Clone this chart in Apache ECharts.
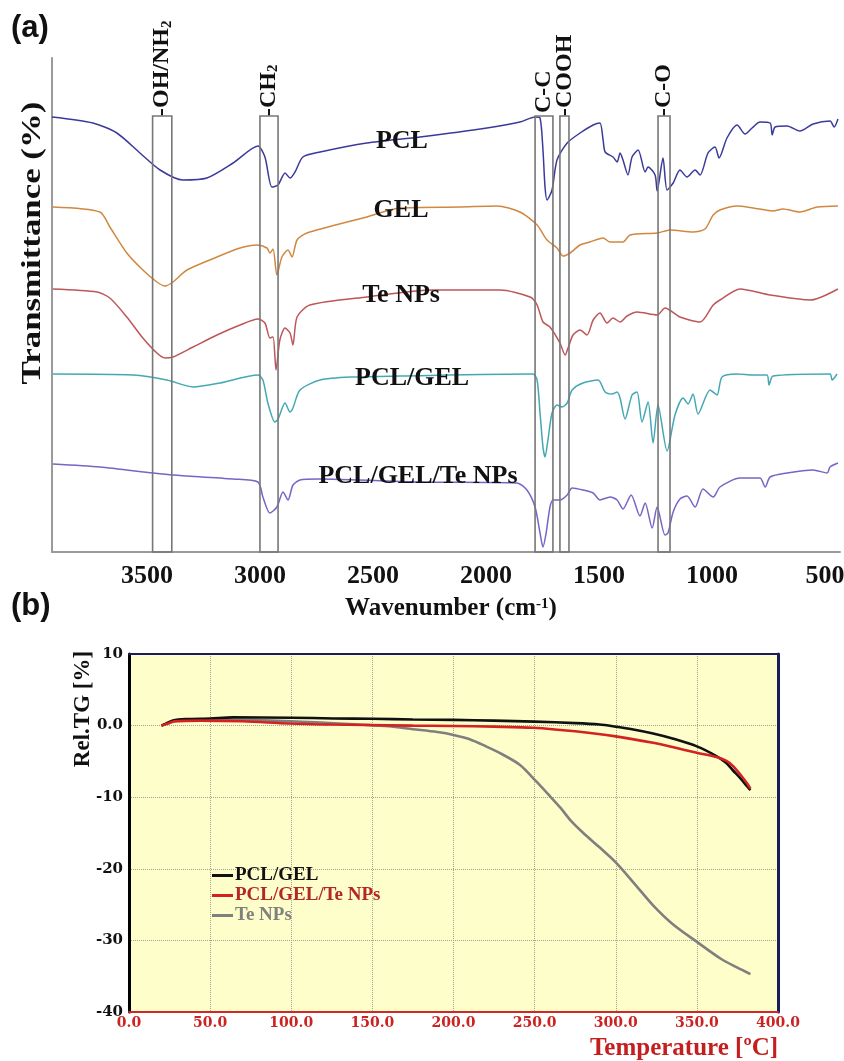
<!DOCTYPE html>
<html><head><meta charset="utf-8">
<script src="https://cdn.jsdelivr.net/npm/echarts@6/dist/echarts.min.js"></script>
<style>html,body{margin:0;padding:0;background:#fff}#c{width:844px;height:1061px}</style>
</head><body><div id="c"></div>
<script>
// ---------- (a) FTIR data: wavenumber (cm-1) and offset transmittance (arb. %) ----------
const ftirTicks = [3500, 3000, 2500, 2000, 1500, 1000, 500];

const pclWn = [3920,3739,3633,3531,3442,3341,3235,3119,3009,2978,2947,2920,2889,2867,2845,2810,2734,2527,2292,1996,1850,1783,1761,1748,1739,1730,1708,1686,1641,1584,1526,1496,1482,1473,1438,1420,1407,1394,1372,1354,1327,1296,1283,1252,1243,1217,1199,1172,1142,1111,1075,1053,1018,987,969,934,889,854,823,788,743,734,721,668,611,553,478,460,443];
const pclT  = [87.0,85.8,83.8,79.8,76.4,74.4,74.8,77.8,81.2,79.0,73.0,73.4,75.8,74.8,76.0,79.0,80.0,81.8,83.0,84.8,86.0,87.0,86.8,80.4,73.0,70.4,72.4,78.4,81.8,83.8,85.4,85.8,82.4,80.0,79.0,78.0,79.8,78.4,75.4,79.0,80.4,76.0,77.0,75.4,72.2,78.8,72.4,73.8,76.4,75.0,76.4,75.4,79.8,81.0,78.8,82.8,85.4,83.6,84.8,86.0,85.8,83.4,85.0,85.2,84.2,85.6,86.2,85.0,86.6];

const gelWn = [3916,3708,3664,3589,3518,3456,3420,3385,3323,3190,3088,3013,2969,2956,2942,2925,2903,2876,2858,2836,2792,2527,2381,2115,1951,1850,1774,1730,1686,1659,1628,1584,1540,1482,1451,1394,1363,1243,1186,1084,1031,995,965,889,818,730,686,611,535,443];
const gelT  = [69.0,68.0,65.0,59.8,56.4,54.0,53.2,54.0,56.4,59.0,60.8,61.4,60.8,59.8,60.6,55.4,59.0,60.4,59.0,62.4,63.8,67.0,68.8,69.0,69.2,68.0,65.4,62.4,60.8,59.2,59.8,61.4,62.0,62.8,62.0,62.0,63.4,63.8,64.4,64.0,64.6,67.4,68.4,69.2,68.8,68.2,68.6,68.0,69.0,69.2];

const teWn = [3916,3721,3664,3589,3518,3456,3420,3385,3296,3190,3088,3009,2978,2956,2942,2929,2912,2889,2867,2854,2836,2779,2527,2234,1938,1805,1774,1748,1717,1673,1650,1637,1615,1584,1553,1526,1496,1465,1438,1407,1376,1332,1243,1208,1142,1053,995,965,876,743,566,443];
const teT  = [52.6,52.0,50.8,47.0,42.8,39.8,38.8,39.0,41.0,43.4,45.4,46.6,45.8,42.8,43.0,36.4,42.4,44.8,43.8,41.4,47.0,49.4,51.0,52.4,52.4,51.0,49.4,46.0,45.0,41.8,39.4,40.8,43.4,44.4,43.4,46.4,47.8,45.8,46.8,46.0,47.2,48.0,47.4,48.8,47.0,46.0,49.4,50.4,52.6,51.4,50.4,52.6];

const pgWn = [3916,3562,3412,3296,3177,3009,2987,2965,2934,2920,2889,2867,2854,2823,2734,2588,2381,1792,1774,1761,1748,1739,1726,1708,1686,1664,1641,1619,1571,1504,1473,1442,1420,1407,1385,1354,1332,1310,1283,1261,1239,1199,1164,1128,1106,1084,1062,1009,978,956,889,818,757,748,730,478,469,447];
const pgT  = [35.6,35.4,34.4,33.0,33.8,35.4,34.4,29.8,26.0,26.6,29.8,28.0,28.8,32.4,34.4,35.0,35.2,35.6,34.4,27.8,21.0,19.0,22.4,27.8,29.4,29.0,29.8,32.4,33.8,34.4,32.0,31.6,32.0,30.8,26.6,31.4,32.0,26.0,30.0,21.8,29.4,20.2,27.4,30.8,29.6,31.6,27.6,32.4,31.4,35.0,35.6,35.4,35.4,33.4,35.2,35.6,34.4,35.6];

const ptWn = [3916,3708,3473,3385,3119,3009,2987,2956,2925,2898,2876,2854,2823,2748,2292,1863,1819,1783,1761,1748,1734,1717,1703,1673,1641,1619,1571,1526,1496,1451,1420,1394,1358,1319,1296,1265,1243,1208,1195,1172,1142,1111,1075,1040,995,965,876,788,765,743,668,553,491,478,443];
const ptT  = [17.6,17.0,15.8,15.4,14.6,14.0,11.0,7.8,9.0,12.0,10.4,13.4,14.4,14.6,14.0,13.8,12.4,9.0,3.8,1.0,3.8,9.0,10.4,10.4,11.4,12.8,12.4,11.8,10.4,11.0,10.4,8.6,11.4,7.2,9.8,4.8,9.0,3.4,3.8,8.0,10.6,11.2,9.0,12.6,11.0,13.0,14.8,14.8,13.0,15.0,15.8,16.4,15.8,17.0,17.8];

const ftirNames = ['PCL', 'GEL', 'Te NPs', 'PCL/GEL', 'PCL/GEL/Te NPs'];

// functional-group bands (cm-1)
const bandNames = ['-OH/NH', '-CH', 'C-C', '-COOH', '-C-O'];
const bandSub   = ['2', '2', '', '', ''];
const bandFrom  = [3475, 3000, 1783, 1673, 1239];
const bandTo    = [3390, 2920, 1704, 1633, 1186];
const bandTop   = 87.2;

// ---------- (b) TG data ----------
const tgBlackT = [20,23,27,35,50,64,100,126,150,175,200,225,250,275,290,300,310,323,335,350,362,368,372,377,381,383];
const tgBlack  = [0,0.3,0.7,0.9,1.0,1.15,1.1,1.0,0.95,0.85,0.8,0.7,0.55,0.35,0.15,-0.15,-0.5,-1.1,-1.8,-2.9,-4.25,-5.2,-6.2,-7.4,-8.5,-9.0];
const tgRedT = [20,24,28,44,70,99,125,146,175,200,225,249,275,300,323,335,350,362,368,372,377,381,383];
const tgRed  = [0,0.3,0.6,0.7,0.6,0.3,0.15,0.08,0.0,-0.05,-0.15,-0.3,-0.8,-1.5,-2.4,-3.0,-3.8,-4.4,-4.9,-5.6,-6.9,-8.1,-8.8];
const tgGrayT = [20,25,30,60,100,146,160,175,190,200,210,220,230,241,251,258,266,272,280,290,300,312,323,335,350,365,375,383];
const tgGray  = [0,0.4,0.7,0.8,0.6,0.1,-0.1,-0.5,-0.9,-1.3,-1.9,-2.9,-4.0,-5.5,-7.8,-9.5,-11.5,-13.2,-15.0,-17.0,-19.1,-22.2,-25.1,-27.7,-30.2,-32.6,-33.8,-34.7];
const tgNames = ['PCL/GEL', 'PCL/GEL/Te NPs', 'Te NPs'];

// ---------- build ----------
const SERIF = '"Liberation Serif","Times New Roman",serif';
const zip = (a, b) => a.slice(0, Math.min(a.length, b.length)).map((v, i) => [v, b[i]]);
const ftirSets = [[pclWn, pclT], [gelWn, gelT], [teWn, teT], [pgWn, pgT], [ptWn, ptT]];
const ftirColors = ['#3a3a9c', '#d08840', '#bd5659', '#44a8b4', '#7a63c6'];
const ftirLabelAt = [[2372, 82.2], [2376, 68.4], [2376, 51.4], [2327, 34.8], [2301, 15.2]];

const chart = echarts.init(document.getElementById('c'));

const series = ftirSets.map((s, i) => ({
  name: 'FTIR ' + ftirNames[i], type: 'line', xAxisIndex: 0, yAxisIndex: 0,
  data: zip(s[0], s[1]), showSymbol: false, symbol: 'none', smooth: 0.25,
  lineStyle: { color: ftirColors[i], width: 1.5 }, itemStyle: { color: ftirColors[i] },
  animation: false, z: 3,
  markArea: i === 0 ? {
    silent: true, z: 4,
    itemStyle: { color: 'rgba(0,0,0,0)', borderColor: '#777', borderWidth: 1.6 },
    label: { show: false },
    data: bandFrom.map((f, k) => [{ xAxis: f, yAxis: 0 }, { xAxis: bandTo[k], yAxis: bandTop }])
  } : undefined
}));

const tgSets = [[tgBlackT, tgBlack], [tgRedT, tgRed], [tgGrayT, tgGray]];
const tgColors = ['#111111', '#d42222', '#7f7f7f'];
[2, 0, 1].forEach(i => {
  series.push({
    name: tgNames[i], type: 'line', xAxisIndex: 1, yAxisIndex: 1,
    data: zip(tgSets[i][0], tgSets[i][1]), showSymbol: false, symbol: 'none', smooth: 0.3,
    lineStyle: { color: tgColors[i], width: 2.6 }, itemStyle: { color: tgColors[i] },
    color: tgColors[i], animation: false, z: 3
  });
});

const noAxis = { axisTick: { show: false }, splitLine: { show: false } };

chart.setOption({
  animation: false,
  backgroundColor: '#ffffff',
  grid: [
    { left: 52, top: 58, width: 788, height: 494, outerBoundsMode: 'none', containLabel: false },
    { left: 129, top: 654, width: 649, height: 358, show: true, backgroundColor: '#fefecb', borderWidth: 0, outerBoundsMode: 'none', containLabel: false }
  ],
  xAxis: [
    Object.assign({ gridIndex: 0, type: 'value', min: 434, max: 3920, inverse: true,
      axisLine: { show: true, onZero: false, lineStyle: { color: '#9a9a9a', width: 2 } },
      axisLabel: { customValues: ftirTicks, formatter: v => String(v), fontFamily: SERIF, fontWeight: 'bold', fontSize: 26, color: '#111', margin: 11 }
    }, noAxis),
    { gridIndex: 1, type: 'value', min: 0, max: 400, interval: 50,
      axisLine: { show: true, onZero: false, lineStyle: { color: '#d02828', width: 2 } },
      axisTick: { show: false },
      splitLine: { show: true, lineStyle: { color: '#a3a392', width: 1, type: 'dotted' } },
      axisLabel: { formatter: v => v.toFixed(1), fontFamily: '"DejaVu Serif",serif', fontWeight: 'bold', fontSize: 14, color: '#cc2222', margin: 4 } },
    Object.assign({ gridIndex: 1, type: 'value', position: 'top', min: 0, max: 400,
      axisLine: { show: true, onZero: false, lineStyle: { color: '#1c1c5c', width: 2 } },
      axisLabel: { show: false } }, noAxis)
  ],
  yAxis: [
    Object.assign({ gridIndex: 0, type: 'value', min: 0, max: 98.8,
      axisLine: { show: true, onZero: false, lineStyle: { color: '#9a9a9a', width: 2 } },
      axisLabel: { show: false } }, noAxis),
    { gridIndex: 1, type: 'value', min: -40, max: 10, interval: 10,
      axisLine: { show: true, onZero: false, lineStyle: { color: '#000', width: 3 } },
      axisTick: { show: false },
      splitLine: { show: true, lineStyle: { color: '#a3a392', width: 1, type: 'dotted' } },
      axisLabel: { formatter: v => (v === 0 ? '0.0' : String(v)), fontFamily: '"DejaVu Serif",serif', fontWeight: 'bold', fontSize: 15, color: '#111', margin: 6 } },
    Object.assign({ gridIndex: 1, type: 'value', position: 'right', min: -40, max: 10,
      axisLine: { show: true, onZero: false, lineStyle: { color: '#1c1c5c', width: 3 } },
      axisLabel: { show: false } }, noAxis)
  ],
  legend: {
    data: [
      { name: tgNames[0], textStyle: { color: '#111' } },
      { name: tgNames[1], textStyle: { color: '#b52626' } },
      { name: tgNames[2], textStyle: { color: '#808080' } }
    ],
    orient: 'vertical', left: 207, top: 861, icon: 'rect', itemWidth: 21, itemHeight: 3, itemGap: 1,
    selectedMode: false,
    textStyle: { fontFamily: SERIF, fontWeight: 'bold', fontSize: 19, lineHeight: 18, padding: [0, 0, 0, -3] }
  },
  series: series
});

// ---------- annotations placed through the axes ----------
const px = (wn, t) => chart.convertToPixel({ xAxisIndex: 0, yAxisIndex: 0 }, [wn, t]);
const els = [];
const txt = (o) => Object.assign({ type: 'text', z: 100, silent: true }, o);

els.push(txt({ x: 11, y: 28, style: { text: '(a)', fontFamily: '"Liberation Sans",Arial,sans-serif', fontWeight: 'bold', fontSize: 31, fill: '#111', align: 'left', verticalAlign: 'middle' } }));
els.push(txt({ x: 11, y: 606, style: { text: '(b)', fontFamily: '"Liberation Sans",Arial,sans-serif', fontWeight: 'bold', fontSize: 31, fill: '#111', align: 'left', verticalAlign: 'middle' } }));

// y title (a)
els.push(txt({ x: 33, y: 243, rotation: Math.PI / 2, scaleX: 1.29, style: { text: 'Transmittance (%)', fontFamily: SERIF, fontWeight: 'bold', fontSize: 27, fill: '#111', align: 'center', verticalAlign: 'middle' } }));
// x title (a)
els.push(txt({ x: 451, y: 609, style: {
  text: '{n|Wavenumber (cm}{s|-1}{n|)}', align: 'center', verticalAlign: 'middle',
  rich: {
    n: { fontFamily: SERIF, fontWeight: 'bold', fontSize: 25, fill: '#111', color: '#111' },
    s: { fontFamily: SERIF, fontWeight: 'bold', fontSize: 15, fill: '#111', color: '#111', verticalAlign: 'top' }
  } } }));

// curve labels
ftirNames.forEach((n, i) => {
  const p = px(ftirLabelAt[i][0], ftirLabelAt[i][1]);
  els.push(txt({ x: p[0], y: p[1], style: { text: n, fontFamily: SERIF, fontWeight: 'bold', fontSize: 26, fill: '#111', align: 'center', verticalAlign: 'middle' } }));
});

// band labels
bandNames.forEach((n, i) => {
  const p = px((bandFrom[i] + bandTo[i]) / 2, bandTop);
  const hasSub = bandSub[i] !== '';
  els.push(txt({ x: p[0], y: p[1] - (n[0] === '-' ? 0 : 3), rotation: Math.PI / 2, style: {
    text: hasSub ? '{a|' + n + '}{s|' + bandSub[i] + '}' : '{a|' + n + '}',
    align: 'left', verticalAlign: 'middle',
    rich: {
      a: { fontFamily: SERIF, fontWeight: 'bold', fontSize: 24, fill: '#111', color: '#111' },
      s: { fontFamily: SERIF, fontWeight: 'bold', fontSize: 15, fill: '#111', color: '#111', verticalAlign: 'bottom' }
    } } }));
});

// (b) axis titles
els.push(txt({ x: 83, y: 709, rotation: Math.PI / 2, style: { text: 'Rel.TG [%]', fontFamily: SERIF, fontWeight: 'bold', fontSize: 23, fill: '#111', align: 'center', verticalAlign: 'middle' } }));
els.push(txt({ x: 684, y: 1049, style: { text: 'Temperature [ºC]', fontFamily: SERIF, fontWeight: 'bold', fontSize: 25, fill: '#c41e1e', align: 'center', verticalAlign: 'middle' } }));

chart.setOption({ graphic: { elements: els } });
</script>
</body></html>
